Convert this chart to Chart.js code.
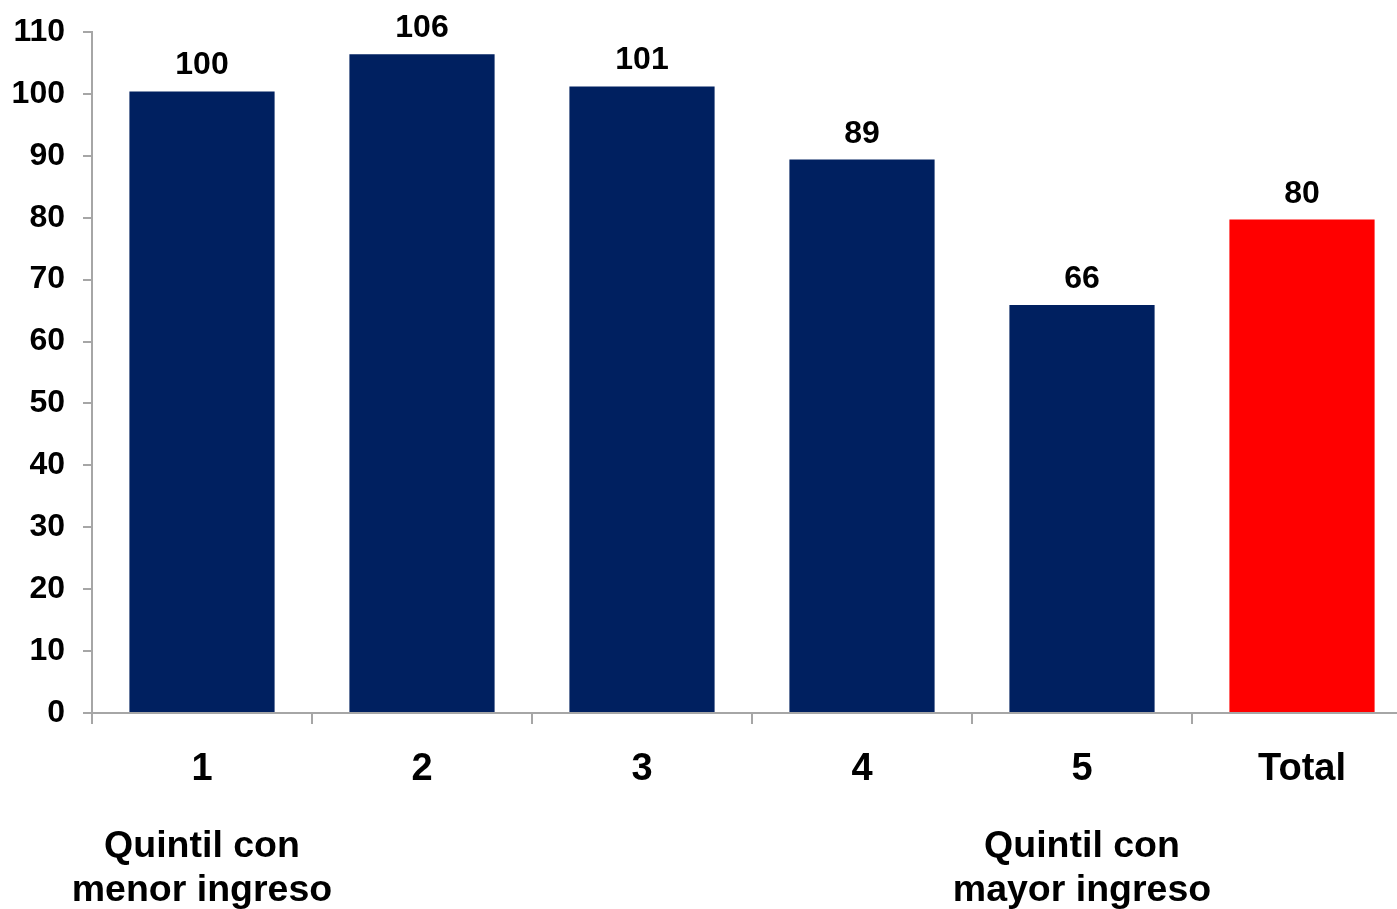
<!DOCTYPE html>
<html>
<head>
<meta charset="utf-8">
<script src="https://cdn.jsdelivr.net/npm/chart.js@4"></script>
<style>
  html, body { margin:0; padding:0; background:#fff; overflow:hidden; }
  #wrap { width:1412px; height:909px; }
</style>
</head>
<body>
<div id="wrap"><canvas id="chart"></canvas></div>
<script>
const categories = ['1', '2', '3', '4', '5', 'Total'];
const values = [100.4, 106.4, 101.2, 89.4, 65.9, 79.7];
const barColors = ['#002060', '#002060', '#002060', '#002060', '#002060', '#ff0000'];
const notes = [['Quintil con', 'menor ingreso'], [], [], [], ['Quintil con', 'mayor ingreso'], []];
const yTicks = [0, 10, 20, 30, 40, 50, 60, 70, 80, 90, 100, 110];

const FONT = '"Liberation Sans", Arial, sans-serif';
const AXIS = '#a6a6a6';

// value labels above bars + the quintile notes under the axis
const extras = {
  id: 'extras',
  afterDatasetsDraw(chart){
    const ctx = chart.ctx;
    const meta = chart.getDatasetMeta(0);
    ctx.save();
    ctx.fillStyle = '#000';
    ctx.textAlign = 'center';
    ctx.font = 'bold 32px ' + FONT;
    ctx.textBaseline = 'alphabetic';
    meta.data.forEach((bar, i) => {
      ctx.fillText(Math.round(values[i]), bar.x, bar.y - 17);
    });
    ctx.font = 'bold 37.5px ' + FONT;
    ctx.textBaseline = 'middle';
    const x = chart.scales.x;
    notes.forEach((lines, i) => {
      lines.forEach((t, j) => {
        ctx.fillText(t, x.getPixelForValue(i), chart.chartArea.bottom + 134 + j * 44);
      });
    });
    ctx.restore();
  }
};

new Chart(document.getElementById('chart'), {
  type: 'bar',
  data: {
    labels: categories,
    datasets: [{
      data: values,
      backgroundColor: barColors,
      categoryPercentage: 1,
      barPercentage: 0.66
    }]
  },
  options: {
    responsive: true,
    maintainAspectRatio: false,
    animation: false,
    layout: { padding: { top: 32, left: 0, right: 0, bottom: 0 } },
    plugins: { legend: { display: false }, tooltip: { enabled: false } },
    scales: {
      x: {
        afterFit(s){ s.height = 196; s.paddingLeft = 0; s.paddingRight = 0; },
        grid: { drawOnChartArea: false, color: AXIS, lineWidth: 2, tickLength: 11, offset: true },
        border: { color: AXIS, width: 2 },
        ticks: { color: '#000', padding: 23, font: { family: FONT, size: 38, weight: 'bold' } }
      },
      y: {
        min: 0, max: 110,
        afterFit(s){ s.width = 92; s.paddingTop = 0; s.paddingBottom = 0; },
        afterBuildTicks(s){ s.ticks = yTicks.map(v => ({ value: v })); },
        grid: { drawOnChartArea: false, color: AXIS, lineWidth: 2, tickLength: 9 },
        border: { color: AXIS, width: 2 },
        ticks: { color: '#000', padding: 18, font: { family: FONT, size: 32, weight: 'bold' } }
      }
    }
  },
  plugins: [extras]
});
</script>
</body>
</html>
